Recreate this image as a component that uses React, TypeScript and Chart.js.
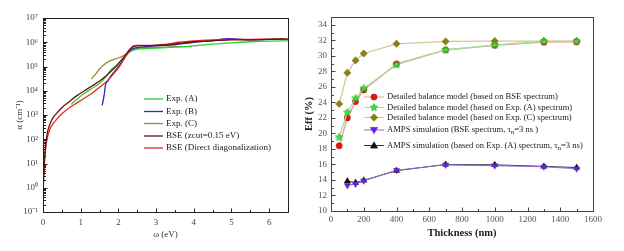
import React, { useEffect, useRef } from "react";
import { Chart, registerables } from "chart.js";

Chart.register(...registerables);

const FONT = "'Liberation Serif', 'Times New Roman', serif";

// ---------- Left chart: absorption spectra ----------
const bseZcutEV = [0.01, 0.03, 0.05, 0.08, 0.12, 0.18, 0.25, 0.35, 0.5, 0.7, 0.9, 1.1, 1.3, 1.5, 1.7, 1.9, 2.05, 2.2, 2.3, 2.4, 2.5, 2.7, 3.0, 3.3, 3.6, 4.0, 4.5, 5.0, 5.5, 6.0, 6.5];
const bseZcutAlpha = [1.6, 7.9, 25, 79, 200, 400, 710, 1120, 2000, 3550, 6300, 1.0e4, 1.58e4, 2.5e4, 4.5e4, 8.9e4, 1.58e5, 3.16e5, 5.0e5, 6.6e5, 7.1e5, 7.2e5, 7.4e5, 7.9e5, 8.9e5, 1.05e6, 1.15e6, 1.26e6, 1.26e6, 1.32e6, 1.35e6];

const bseDirectEV = [0.01, 0.03, 0.05, 0.08, 0.12, 0.18, 0.25, 0.35, 0.5, 0.7, 0.9, 1.1, 1.3, 1.5, 1.7, 1.9, 2.05, 2.2, 2.3, 2.4, 2.5, 2.7, 3.0, 3.3, 3.6, 4.0, 4.5, 5.0, 5.5, 6.0, 6.5];
const bseDirectAlpha = [1.26, 6.3, 20, 56, 126, 251, 400, 630, 1120, 2000, 3160, 5000, 7900, 1.41e4, 2.5e4, 5.6e4, 1.12e5, 2.8e5, 4.8e5, 7.1e5, 7.4e5, 7.4e5, 7.6e5, 8.3e5, 1.0e6, 1.15e6, 1.26e6, 1.32e6, 1.32e6, 1.35e6, 1.35e6];

const expAEV = [0.75, 0.9, 1.1, 1.3, 1.5, 1.65, 1.8, 1.95, 2.1, 2.2, 2.3, 2.45, 2.6, 3.0, 3.5, 4.0, 4.5, 5.0, 5.5, 6.0, 6.5];
const expAAlpha = [2800, 4500, 7900, 1.26e4, 2.0e4, 3.5e4, 7.1e4, 1.12e5, 2.0e5, 2.8e5, 4.0e5, 5.0e5, 5.4e5, 5.75e5, 6.3e5, 7.1e5, 8.3e5, 9.5e5, 1.05e6, 1.12e6, 1.15e6];

const expBEV = [1.57, 1.62, 1.66, 1.72, 1.8, 1.9, 2.0, 2.1, 2.2, 2.3, 2.4, 2.6, 3.0, 3.5, 4.0, 4.5, 4.9, 5.1, 5.5, 6.0, 6.4];
const expBAlpha = [2500, 6300, 1.78e4, 2.5e4, 4.0e4, 6.3e4, 1.0e5, 1.58e5, 2.8e5, 4.5e5, 5.6e5, 6.3e5, 7.1e5, 7.9e5, 1.0e6, 1.17e6, 1.41e6, 1.38e6, 1.26e6, 1.32e6, 1.41e6];

const expCEV = [1.28, 1.4, 1.5, 1.6, 1.8, 2.0, 2.2, 2.35, 2.5, 2.8, 3.2, 3.6, 3.95];
const expCAlpha = [3.0e4, 5.0e4, 7.9e4, 1.12e5, 1.78e5, 2.24e5, 3.16e5, 4.5e5, 5.6e5, 6.0e5, 6.3e5, 6.6e5, 6.6e5];

const omegaTicks = [0, 1, 2, 3, 4, 5, 6];
const alphaTicks = [0.1, 1, 10, 100, 1e3, 1e4, 1e5, 1e6, 1e7];
const alphaTickLabels = ["10⁻¹", "10⁰", "10¹", "10²", "10³", "10⁴", "10⁵", "10⁶", "10⁷"];
const leftLegendLabels = ["Exp. (A)", "Exp. (B)", "Exp. (C)", "BSE (zcut=0.15 eV)", "BSE (Direct diagonalization)"];

// ---------- Right chart: efficiency vs thickness ----------
const thickness = [50, 100, 150, 200, 400, 700, 1000, 1300, 1500];
const effBSE = [18.4, 22.0, 24.1, 25.6, 28.95, 30.75, 31.35, 31.75, 31.8];
const effExpA = [19.5, 22.7, 24.5, 25.8, 28.85, 30.75, 31.4, 31.85, 31.85];
const effExpC = [23.8, 27.8, 29.4, 30.3, 31.55, 31.85, 31.9, 31.9, 31.9];
const ampsThickness = [100, 150, 200, 400, 700, 1000, 1300, 1500];
const ampsBSE = [13.3, 13.5, 13.9, 15.25, 15.95, 15.85, 15.7, 15.45];
const ampsExpA = [13.85, 13.65, 13.95, 15.2, 16.0, 15.95, 15.75, 15.6];

const thicknessTicks = [0, 200, 400, 600, 800, 1000, 1200, 1400, 1600];
const thicknessTickLabels = ["0", "200", "400", "600", "800", "1000", "1200", "1400", "1600"];
const effTicks = [10, 12, 14, 16, 18, 20, 22, 24, 26, 28, 30, 32, 34];

type Part = { t: string; sub?: boolean };
const rightLegendLabels: Part[][] = [
  [{ t: "Detailed balance model (based on BSE spectrum)" }],
  [{ t: "Detailed balance model (based on Exp. (A) spectrum)" }],
  [{ t: "Detailed balance model (based on Exp. (C) spectrum)" }],
  [{ t: "AMPS simulation (BSE spectrum, τ" }, { t: "n", sub: true }, { t: "=3 ns )" }],
  [{ t: "AMPS simulation (based on Exp. (A) spectrum, τ" }, { t: "n", sub: true }, { t: "=3 ns)" }],
];

// ---------- helpers ----------
function markerPath(ctx: CanvasRenderingContext2D, style: string, x: number, y: number, r: number) {
  ctx.beginPath();
  if (style === "circle") {
    ctx.arc(x, y, r, 0, Math.PI * 2);
  } else if (style === "rectRot") {
    const d = r * 1.25;
    ctx.moveTo(x, y - d); ctx.lineTo(x + d, y); ctx.lineTo(x, y + d); ctx.lineTo(x - d, y); ctx.closePath();
  } else if (style === "triUp" || style === "triDown") {
    const s = style === "triUp" ? -1 : 1;
    const d = r * 1.2;
    ctx.moveTo(x, y + s * d); ctx.lineTo(x + d, y - s * d * 0.7); ctx.lineTo(x - d, y - s * d * 0.7); ctx.closePath();
  } else if (style === "star") {
    for (let k = 0; k < 10; k++) {
      const rr = k % 2 === 0 ? r * 1.3 : r * 0.6;
      const a = -Math.PI / 2 + (k * Math.PI) / 5;
      const px = x + rr * Math.cos(a), py = y + rr * Math.sin(a);
      if (k === 0) ctx.moveTo(px, py); else ctx.lineTo(px, py);
    }
    ctx.closePath();
  }
}

function drawMarker(ctx: CanvasRenderingContext2D, style: string, x: number, y: number, r: number, fill: string, stroke: string) {
  markerPath(ctx, style, x, y, r);
  ctx.fillStyle = fill;
  ctx.fill();
  ctx.lineWidth = 0.7;
  ctx.strokeStyle = stroke;
  ctx.stroke();
}

function markerImage(style: string, r: number, fill: string, stroke: string) {
  const size = Math.ceil(r * 3 + 2);
  const c = document.createElement("canvas");
  c.width = size; c.height = size;
  const ctx = c.getContext("2d")!;
  drawMarker(ctx, style, size / 2, size / 2, r, fill, stroke);
  return c;
}

const framePlugin = {
  id: "frame",
  afterDatasetsDraw(chart: any, _args: any, opts: any) {
    const { ctx, chartArea } = chart;
    const { left, right, top, bottom } = chartArea;
    const xs = chart.scales.x, ys = chart.scales.y;
    ctx.save();
    ctx.strokeStyle = opts.color;
    ctx.lineWidth = 1;
    ctx.strokeRect(Math.round(left) + 0.5, Math.round(top) + 0.5, Math.round(right - left), Math.round(bottom - top));
    ctx.beginPath();
    const b = Math.round(bottom) + 0.5, l = Math.round(left) + 0.5;
    for (const v of opts.xMajor) { const p = Math.round(xs.getPixelForValue(v)) + 0.5; ctx.moveTo(p, b); ctx.lineTo(p, b - 4); }
    for (const v of opts.xMinor) { const p = Math.round(xs.getPixelForValue(v)) + 0.5; ctx.moveTo(p, b); ctx.lineTo(p, b - 2.5); }
    for (const v of opts.yMajor) { const p = Math.round(ys.getPixelForValue(v)) + 0.5; ctx.moveTo(l, p); ctx.lineTo(l + 4, p); }
    for (const v of opts.yMinor) { const p = Math.round(ys.getPixelForValue(v)) + 0.5; ctx.moveTo(l, p); ctx.lineTo(l + 2.5, p); }
    ctx.stroke();
    ctx.restore();
  },
};

const legendPlugin = {
  id: "boxLegend",
  afterDraw(chart: any, _args: any, opts: any) {
    if (!opts || !opts.items) return;
    const ctx: CanvasRenderingContext2D = chart.ctx;
    ctx.save();
    ctx.textBaseline = "middle";
    ctx.textAlign = "left";
    opts.items.forEach((it: any, i: number) => {
      const y = opts.rows[i];
      ctx.beginPath();
      ctx.strokeStyle = it.line;
      ctx.lineWidth = it.lineWidth || 1;
      ctx.moveTo(opts.x, y);
      ctx.lineTo(opts.x + opts.len, y);
      ctx.stroke();
      if (it.marker) drawMarker(ctx, it.marker, opts.x + opts.len / 2, y, opts.r, it.fill, it.stroke);
      let tx = opts.x + opts.len + opts.gap;
      for (const p of it.parts as Part[]) {
        ctx.fillStyle = opts.color;
        if (p.sub) {
          ctx.font = `${opts.size * 0.75}px ${FONT}`;
          ctx.fillText(p.t, tx, y + opts.size * 0.3);
        } else {
          ctx.font = `${opts.size}px ${FONT}`;
          ctx.fillText(p.t, tx, y);
        }
        tx += ctx.measureText(p.t).width;
      }
    });
    ctx.restore();
  },
};

function pts(xs: number[], ys: number[]) {
  return xs.map((x, i) => ({ x, y: ys[i] }));
}

function LeftChart() {
  const ref = useRef<HTMLCanvasElement>(null);
  useEffect(() => {
    const lineDs = (label: string, xs: number[], ys: number[], color: string, order: number) => ({
      label, data: pts(xs, ys), borderColor: color, backgroundColor: color,
      borderWidth: 1.3, pointRadius: 0, tension: 0.4, cubicInterpolationMode: "monotone" as const, order,
    });
    const colors = ["#2fd02f", "#2a2ab8", "#958a35", "#6b1212", "#e02a2a"];
    const xMinor: number[] = [];
    for (let v = 0.5; v < 6.5; v += 1) xMinor.push(v);
    const yMinor: number[] = [];
    for (let e = -1; e < 7; e++) for (let m = 2; m <= 9; m++) yMinor.push(m * Math.pow(10, e));
    const chart = new Chart(ref.current!, {
      type: "line",
      data: {
        datasets: [
          lineDs(leftLegendLabels[0], expAEV, expAAlpha, colors[0], 4),
          lineDs(leftLegendLabels[1], expBEV, expBAlpha, colors[1], 3),
          lineDs(leftLegendLabels[2], expCEV, expCAlpha, colors[2], 5),
          lineDs(leftLegendLabels[3], bseZcutEV, bseZcutAlpha, colors[3], 1),
          lineDs(leftLegendLabels[4], bseDirectEV, bseDirectAlpha, colors[4], 2),
        ],
      },
      options: {
        animation: false,
        responsive: true,
        maintainAspectRatio: false,
        layout: { padding: { top: 18, right: 12, left: 0, bottom: 0 } },
        plugins: {
          legend: { display: false },
          tooltip: { enabled: false },
          frame: { color: "#222", xMajor: omegaTicks, xMinor, yMajor: alphaTicks, yMinor },
          boxLegend: {
            x: 144, len: 19, gap: 3, r: 3, size: 9, color: "#222",
            rows: [99, 111.5, 123.5, 136, 148],
            items: leftLegendLabels.map((t, i) => ({ parts: [{ t }], line: colors[i], lineWidth: 1.3 })),
          },
        } as any,
        scales: {
          x: {
            type: "linear", min: 0, max: 6.5,
            grid: { display: false, drawTicks: false },
            border: { display: false },
            afterBuildTicks: (s: any) => { s.ticks = omegaTicks.map((value) => ({ value })); },
            afterFit: (s: any) => { s.height = 39; },
            ticks: { color: "#444", font: { family: FONT, size: 9 }, padding: 5, autoSkip: false, maxRotation: 0 },
            title: { display: true, text: "ω (eV)", color: "#333", font: { family: FONT, size: 9 }, padding: { bottom: 11, top: 0 } },
          },
          y: {
            type: "logarithmic", min: 0.1, max: 1e7,
            grid: { display: false, drawTicks: false },
            border: { display: false },
            afterBuildTicks: (s: any) => { s.ticks = alphaTicks.map((value) => ({ value })); },
            afterFit: (s: any) => { s.width = 43; },
            ticks: {
              color: "#444", font: { family: FONT, size: 9 }, padding: 5, autoSkip: false,
              callback: (_v: any, i: number) => alphaTickLabels[i],
            },
            title: { display: true, text: "α (cm⁻¹)", color: "#333", font: { family: FONT, size: 9 }, padding: { top: 14, bottom: 0 } },
          },
        },
      },
      plugins: [framePlugin, legendPlugin],
    } as any);
    return () => chart.destroy();
  }, []);
  return <canvas ref={ref} style={{ display: "block" }} />;
}

function RightChart() {
  const ref = useRef<HTMLCanvasElement>(null);
  useEffect(() => {
    const starImg = markerImage("star", 3.1, "#3ee03e", "#28b028");
    const xMinor: number[] = [];
    for (let v = 100; v < 1600; v += 200) xMinor.push(v);
    const yMinor: number[] = [];
    for (let v = 11; v < 35; v += 2) yMinor.push(v);
    const c = {
      redLine: "#f09a9a", red: "#e41515",
      greenLine: "#9ee296", green: "#3ee03e",
      oliveLine: "#cfc89a", olive: "#8a7f16",
      purpleLine: "#9068d6", purple: "#6620d6",
      blackLine: "#333333", black: "#111111",
    };
    const chart = new Chart(ref.current!, {
      type: "line",
      data: {
        datasets: [
          {
            label: "Exp C", data: pts(thickness, effExpC), borderColor: c.oliveLine, borderWidth: 1.3,
            pointStyle: "rectRot", pointRadius: 3.7, pointBackgroundColor: c.olive, pointBorderColor: c.olive, pointBorderWidth: 0.5, order: 5,
          },
          {
            label: "BSE", data: pts(thickness, effBSE), borderColor: c.redLine, borderWidth: 1.3,
            pointStyle: "circle", pointRadius: 3.1, pointBackgroundColor: c.red, pointBorderColor: "#b01010", pointBorderWidth: 0.5, order: 4,
          },
          {
            label: "Exp A", data: pts(thickness, effExpA), borderColor: c.greenLine, borderWidth: 1.3,
            pointStyle: starImg, pointBackgroundColor: c.green, order: 3,
          },
          {
            label: "AMPS Exp A", data: pts(ampsThickness, ampsExpA), borderColor: c.blackLine, borderWidth: 1,
            pointStyle: "triangle", pointRadius: 3.6, pointBackgroundColor: c.black, pointBorderColor: c.black, pointBorderWidth: 0.5, order: 2,
          },
          {
            label: "AMPS BSE", data: pts(ampsThickness, ampsBSE), borderColor: c.purpleLine, borderWidth: 1.1,
            pointStyle: "triangle", rotation: 180, pointRadius: 3.6, pointBackgroundColor: c.purple, pointBorderColor: c.purple, pointBorderWidth: 0.5, order: 1,
          },
        ],
      },
      options: {
        animation: false,
        responsive: true,
        maintainAspectRatio: false,
        layout: { padding: { top: 17, right: 31, left: 0, bottom: 0 } },
        plugins: {
          legend: { display: false },
          tooltip: { enabled: false },
          frame: { color: "#444", xMajor: thicknessTicks, xMinor, yMajor: effTicks, yMinor },
          boxLegend: {
            x: 64, len: 20, gap: 3, r: 3, size: 8.6, color: "#222",
            rows: [97, 107.5, 117.5, 130, 145.5],
            items: [
              { parts: rightLegendLabels[0], line: c.redLine, marker: "circle", fill: c.red, stroke: "#b01010" },
              { parts: rightLegendLabels[1], line: c.greenLine, marker: "star", fill: c.green, stroke: "#28b028" },
              { parts: rightLegendLabels[2], line: c.oliveLine, marker: "rectRot", fill: c.olive, stroke: c.olive },
              { parts: rightLegendLabels[3], line: c.purpleLine, marker: "triDown", fill: c.purple, stroke: c.purple },
              { parts: rightLegendLabels[4], line: c.blackLine, marker: "triUp", fill: c.black, stroke: c.black },
            ],
          },
        } as any,
        scales: {
          x: {
            type: "linear", min: 0, max: 1600,
            grid: { display: false, drawTicks: false },
            border: { display: false },
            afterBuildTicks: (s: any) => { s.ticks = thicknessTicks.map((value) => ({ value })); },
            afterFit: (s: any) => { s.height = 40; },
            ticks: {
              color: "#555", font: { family: FONT, size: 9 }, padding: 3, autoSkip: false, maxRotation: 0,
              callback: (_v: any, i: number) => thicknessTickLabels[i],
            },
            title: { display: true, text: "Thickness (nm)", color: "#222", font: { family: FONT, size: 10.5, weight: "bold" }, padding: { bottom: 11, top: 0 } },
          },
          y: {
            type: "linear", min: 10, max: 35,
            grid: { display: false, drawTicks: false },
            border: { display: false },
            afterBuildTicks: (s: any) => { s.ticks = effTicks.map((value) => ({ value })); },
            afterFit: (s: any) => { s.width = 31; },
            ticks: { color: "#555", font: { family: FONT, size: 9 }, padding: 4, autoSkip: false },
            title: { display: true, text: "Eff (%)", color: "#222", font: { family: FONT, size: 10.5, weight: "bold" }, padding: { top: 3, bottom: 0 } },
          },
        },
      },
      plugins: [framePlugin, legendPlugin],
    } as any);
    return () => chart.destroy();
  }, []);
  return <canvas ref={ref} style={{ display: "block" }} />;
}

export default function App() {
  return (
    <div style={{ position: "fixed", left: 0, top: 0, width: 624, height: 251, background: "#fff", overflow: "hidden" }}>
      <div style={{ position: "absolute", left: 0, top: 0, width: 300, height: 251 }}>
        <LeftChart />
      </div>
      <div style={{ position: "absolute", left: 300, top: 0, width: 324, height: 251 }}>
        <RightChart />
      </div>
    </div>
  );
}
